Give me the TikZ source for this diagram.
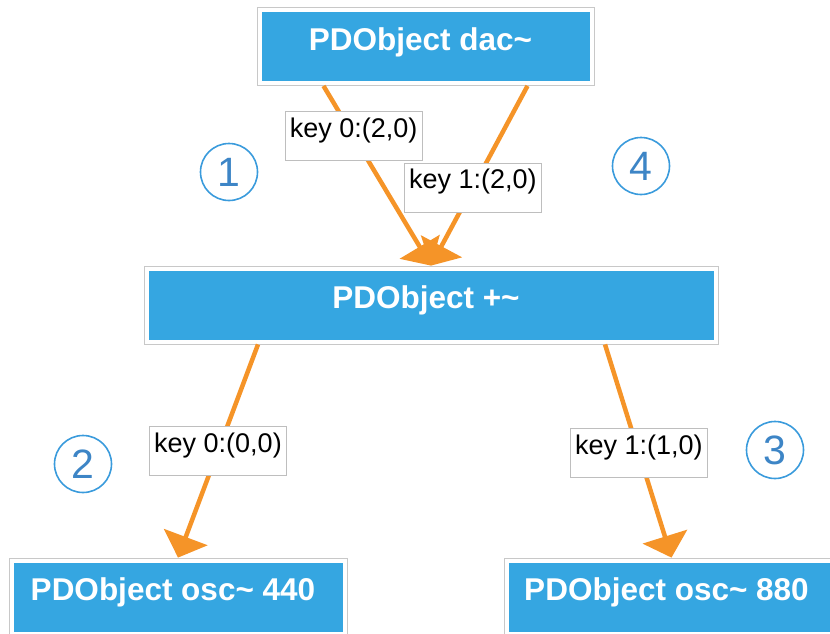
\documentclass[tikz,border=0pt]{standalone}
\usepackage{fontspec}
\setmainfont{Liberation Sans}
\usetikzlibrary{arrows.meta}
\definecolor{objblue}{RGB}{53,166,225}
\definecolor{wireorange}{RGB}{245,148,40}
\definecolor{ringblue}{RGB}{58,155,220}
\definecolor{digitblue}{RGB}{61,133,198}
\definecolor{framegray}{RGB}{200,200,200}
\definecolor{labelgray}{RGB}{190,190,190}
\begin{document}
\begin{tikzpicture}[x=1pt,y=-1pt,
  objbox/.style={draw=framegray, line width=0.8pt, fill=white,
    minimum height=78pt, inner sep=0pt,
    path picture={\fill[objblue]
      ([shift={(4.5pt,-4.5pt)}]path picture bounding box.north west) rectangle
      ([shift={(-4.5pt,4.5pt)}]path picture bounding box.south east);},
    text=white, font=\bfseries\fontsize{31.5}{31.5}\selectfont,
    text height=22pt, text depth=15pt,
    execute at end node={\hspace*{10pt}}},
  keylabel/.style={draw=labelgray, line width=0.8pt, fill=white,
    minimum width=137pt, minimum height=49pt, inner sep=0pt,
    font=\fontsize{27}{27}\selectfont, text=black,
    text height=20pt, text depth=17pt},
  wire/.style={draw=wireorange, line width=4.5pt,
    -{Triangle[length=22pt,width=46pt]}},
  ring/.style={circle, draw=ringblue, line width=1.6pt, minimum size=57pt,
    inner sep=0pt, text=digitblue, font=\fontsize{41}{41}\selectfont}]

\useasboundingbox (0,0) rectangle (830,633);
\clip (0,0) rectangle (830,633);

% object boxes
\node[objbox, minimum width=337pt] (dac) at (425.5,46.5) {PDObject dac\textasciitilde};
\node[objbox, minimum width=574pt] (plus) at (431,305) {PDObject +\textasciitilde};
\node[objbox, minimum width=338pt] (osca) at (178,597) {PDObject osc\textasciitilde{} 440};
\node[objbox, minimum width=335pt] (oscb) at (671.5,597) {PDObject osc\textasciitilde{} 880};

% connections with their inlet labels
\draw[wire] ([xshift=-102pt]dac.south) -- (plus.north)
  node[keylabel, pos=0.28] (k1) {key 0:(2,0)};
\draw[wire] ([xshift=102pt]dac.south) -- (plus.north)
  node[keylabel, pos=0.565] (k2) {key 1:(2,0)};
\draw[wire] ([xshift=-173pt]plus.south) -- (osca.north)
  node[keylabel, pos=0.5] (k3) {key 0:(0,0)};
\draw[wire] ([xshift=174pt]plus.south) -- (oscb.north)
  node[keylabel, pos=0.51] (k4) {key 1:(1,0)};

% step numbers
\node[ring] (s1) at (229,172) {1};
\node[ring] (s2) at (83,464) {2};
\node[ring] (s3) at (775,450) {3};
\node[ring] (s4) at (641,166) {4};
\end{tikzpicture}
\end{document}
